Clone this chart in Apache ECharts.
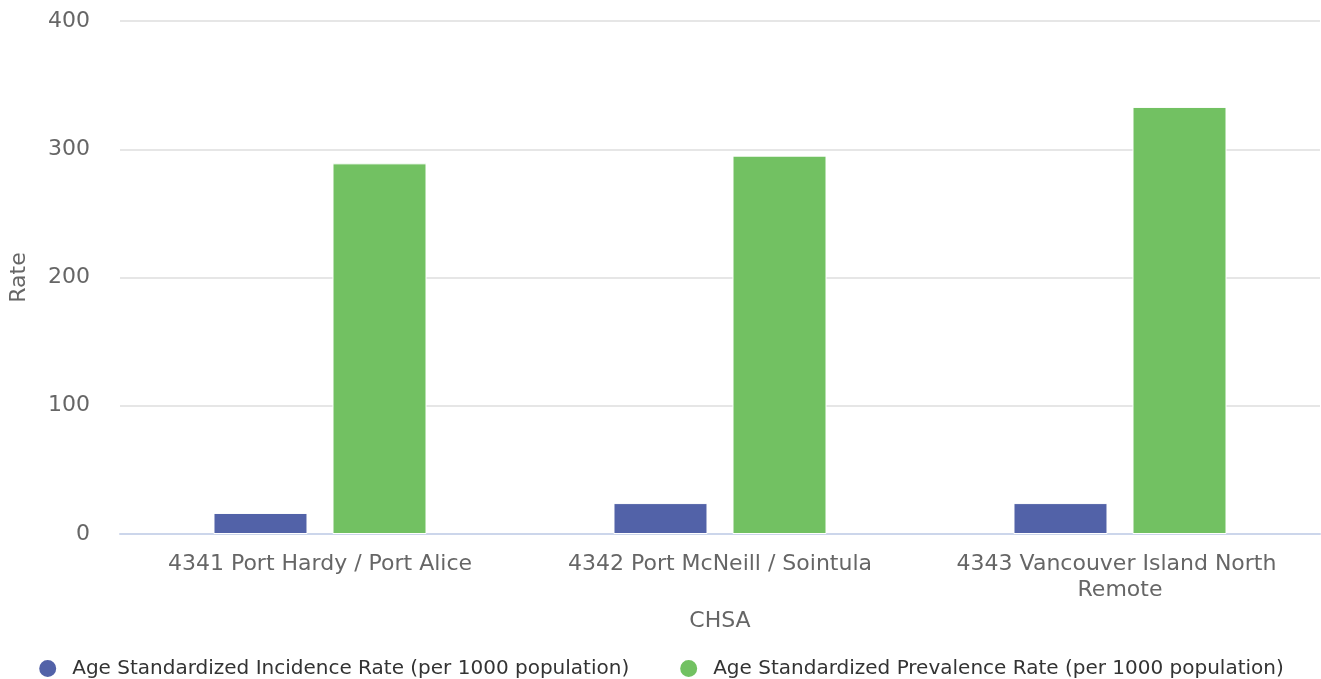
<!DOCTYPE html>
<html><head><meta charset="utf-8">
<script src="https://cdn.jsdelivr.net/npm/echarts@6/dist/echarts.min.js"></script>
<style>html,body{margin:0;padding:0;background:#fff}#c{width:1321px;height:679px}</style>
</head><body><div id="c"></div>
<script>
const categories = ["4341 Port Hardy / Port Alice", "4342 Port McNeill / Sointula", "4343 Vancouver Island North Remote"];
const incidence = [16.4, 24.1, 24.1];
const prevalence = [289, 295, 333];
const seriesNames = ["Age Standardized Incidence Rate (per 1000 population)", "Age Standardized Prevalence Rate (per 1000 population)"];
const yTicks = [0, 100, 200, 300, 400];

const font = "DejaVu Sans";
const chart = echarts.init(document.getElementById('c'), null, {renderer: 'canvas'});
chart.setOption({
  animation: false,
  textStyle: {fontFamily: font},
  grid: {left: 120, right: 1, top: 21, bottom: 145, containLabel: false, outerBoundsMode: 'none'},
  legend: {
    top: 653, left: 'center', itemGap: 49, icon: 'circle', itemWidth: 19, itemHeight: 19,
    textStyle: {fontFamily: font, fontSize: 20, color: '#333', padding: [0, 0, 0, 10]},
    data: seriesNames
  },
  xAxis: {
    type: 'category', data: categories,
    name: 'CHSA', nameLocation: 'middle', nameGap: 76,
    nameTextStyle: {fontFamily: font, fontSize: 22, color: '#666'},
    axisLine: {lineStyle: {color: '#ccd6eb', width: 2}},
    axisTick: {show: false},
    axisLabel: {interval: 0, hideOverlap: false, fontFamily: font, fontSize: 22, color: '#666', margin: 17, width: 360, overflow: 'break', lineHeight: 26, align: 'center'}
  },
  yAxis: {
    type: 'value', min: yTicks[0], max: yTicks[yTicks.length - 1], interval: 100,
    name: 'Rate', nameLocation: 'middle', nameGap: 90,
    nameTextStyle: {fontFamily: font, fontSize: 22, color: '#666'},
    axisLine: {show: false}, axisTick: {show: false},
    splitLine: {lineStyle: {color: '#e6e6e6', width: 2}},
    axisLabel: {fontFamily: font, fontSize: 22, color: '#666', margin: 30}
  },
  series: [
    {name: seriesNames[0], type: 'bar', data: incidence, barWidth: 94, barGap: '26.6%',
     itemStyle: {color: '#5262a8', borderColor: '#ffffff', borderWidth: 1}},
    {name: seriesNames[1], type: 'bar', data: prevalence, barWidth: 94,
     itemStyle: {color: '#72c162', borderColor: '#ffffff', borderWidth: 1}}
  ]
});
</script></body></html>
